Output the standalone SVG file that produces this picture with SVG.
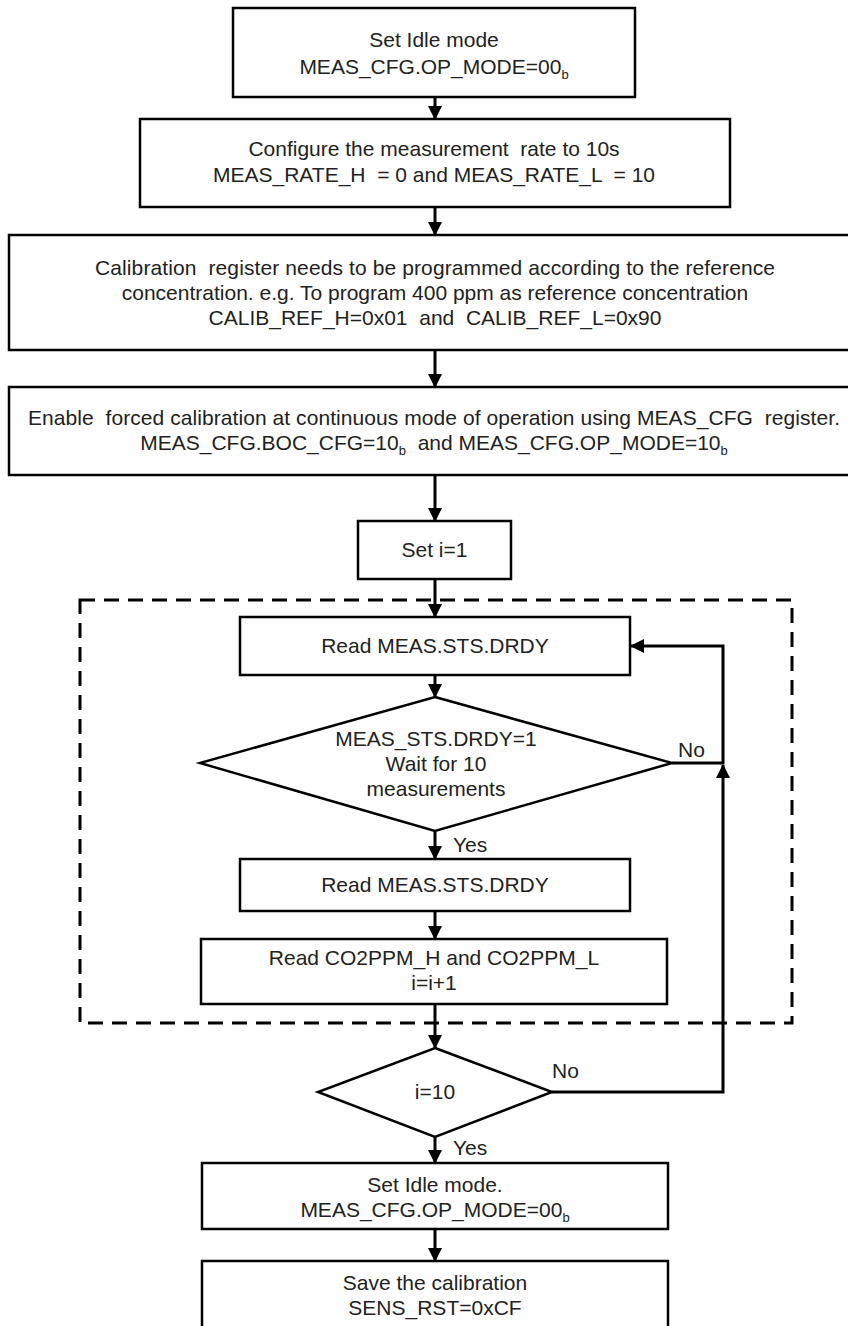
<svg xmlns="http://www.w3.org/2000/svg" width="848" height="1326" viewBox="0 0 848 1326">
<defs>
<marker id="ah" markerUnits="userSpaceOnUse" markerWidth="14" markerHeight="14" viewBox="0 0 14 14" refX="13" refY="7" orient="auto"><path d="M0,0 L14,7 L0,14 z" fill="#000"/></marker>
<style>
.box{fill:#fff;stroke:#000;stroke-width:2.5}
.t{font-family:"Liberation Sans",Arial,sans-serif;font-size:21px;fill:#222;text-anchor:middle;white-space:pre}
.lbl{font-family:"Liberation Sans",Arial,sans-serif;font-size:21px;fill:#222}
.sub{font-size:13px}
.c{fill:none;stroke:#000;stroke-width:3}
.dash{fill:none;stroke:#000;stroke-width:3;stroke-dasharray:15 9}
</style>
</defs>
<rect width="848" height="1326" fill="#fff"/>
<g id="loop-frame"><rect class="dash" x="80" y="600" width="712" height="423"/></g>
<g id="connectors">
<line class="c" x1="435" y1="97" x2="435" y2="119" marker-end="url(#ah)"/>
<line class="c" x1="435" y1="207" x2="435" y2="235" marker-end="url(#ah)"/>
<line class="c" x1="435" y1="350" x2="435" y2="387" marker-end="url(#ah)"/>
<line class="c" x1="435" y1="475" x2="435" y2="521" marker-end="url(#ah)"/>
<line class="c" x1="435" y1="579" x2="435" y2="617" marker-end="url(#ah)"/>
<line class="c" x1="435" y1="675" x2="435" y2="697" marker-end="url(#ah)"/>
<line class="c" x1="435" y1="831" x2="435" y2="859" marker-end="url(#ah)"/>
<line class="c" x1="435" y1="911" x2="435" y2="939" marker-end="url(#ah)"/>
<line class="c" x1="435" y1="1004" x2="435" y2="1048" marker-end="url(#ah)"/>
<line class="c" x1="435" y1="1137" x2="435" y2="1163" marker-end="url(#ah)"/>
<line class="c" x1="435" y1="1229" x2="435" y2="1261" marker-end="url(#ah)"/>
<polyline class="c" points="672,763 723,763 723,646 631,646" marker-end="url(#ah)"/>
<polyline class="c" points="552,1092 723,1092 723,765" marker-end="url(#ah)"/>
<text class="lbl" x="678" y="757">No</text>
<text class="lbl" x="453" y="852">Yes</text>
<text class="lbl" x="552" y="1078">No</text>
<text class="lbl" x="453" y="1155">Yes</text>
</g>
<g id="n1"><rect class="box" x="233" y="8" width="402" height="89"/>
<text class="t" x="434" y="47">Set Idle mode</text>
<text class="t" x="434" y="74">MEAS_CFG.OP_MODE=00<tspan class="sub" dy="5">b</tspan></text></g>
<g id="n2"><rect class="box" x="140" y="119" width="590" height="88"/>
<text class="t" x="434" y="156">Configure the measurement  rate to 10s</text>
<text class="t" x="434" y="182">MEAS_RATE_H  = 0 and MEAS_RATE_L  = 10</text></g>
<g id="n3"><rect class="box" x="9" y="235" width="852" height="115"/>
<text class="t" x="435" y="275" textLength="680" lengthAdjust="spacing">Calibration  register needs to be programmed according to the reference</text>
<text class="t" x="435" y="300">concentration. e.g. To program 400 ppm as reference concentration</text>
<text class="t" x="435" y="325">CALIB_REF_H=0x01  and  CALIB_REF_L=0x90</text></g>
<g id="n4"><rect class="box" x="9" y="387" width="852" height="88"/>
<text class="t" x="434" y="425" textLength="812" lengthAdjust="spacing">Enable  forced calibration at continuous mode of operation using MEAS_CFG  register.</text>
<text class="t" x="434" y="450">MEAS_CFG.BOC_CFG=10<tspan class="sub" dy="5">b</tspan><tspan dy="-5">  and MEAS_CFG.OP_MODE=10</tspan><tspan class="sub" dy="5">b</tspan></text></g>
<g id="n5"><rect class="box" x="358" y="521" width="153" height="58"/>
<text class="t" x="434.5" y="557">Set i=1</text></g>
<g id="n6"><rect class="box" x="240" y="617" width="390" height="58"/>
<text class="t" x="435" y="653">Read MEAS.STS.DRDY</text></g>
<g id="n7"><polygon class="box" points="435,697 672,763 435,831 200,763"/>
<text class="t" x="436" y="746">MEAS_STS.DRDY=1</text>
<text class="t" x="436" y="771">Wait for 10</text>
<text class="t" x="436" y="796">measurements</text></g>
<g id="n8"><rect class="box" x="240" y="859" width="390" height="52"/>
<text class="t" x="435" y="892">Read MEAS.STS.DRDY</text></g>
<g id="n9"><rect class="box" x="201" y="939" width="466" height="65"/>
<text class="t" x="434" y="965">Read CO2PPM_H and CO2PPM_L</text>
<text class="t" x="434" y="990">i=i+1</text></g>
<g id="n10"><polygon class="box" points="435,1048 552,1092 435,1137 318,1092"/>
<text class="t" x="435" y="1099">i=10</text></g>
<g id="n11"><rect class="box" x="202" y="1163" width="466" height="66"/>
<text class="t" x="435" y="1192">Set Idle mode.</text>
<text class="t" x="435" y="1217">MEAS_CFG.OP_MODE=00<tspan class="sub" dy="5">b</tspan></text></g>
<g id="n12"><rect class="box" x="202" y="1261" width="466" height="80"/>
<text class="t" x="435" y="1290">Save the calibration</text>
<text class="t" x="435" y="1315">SENS_RST=0xCF</text></g>
</svg>
